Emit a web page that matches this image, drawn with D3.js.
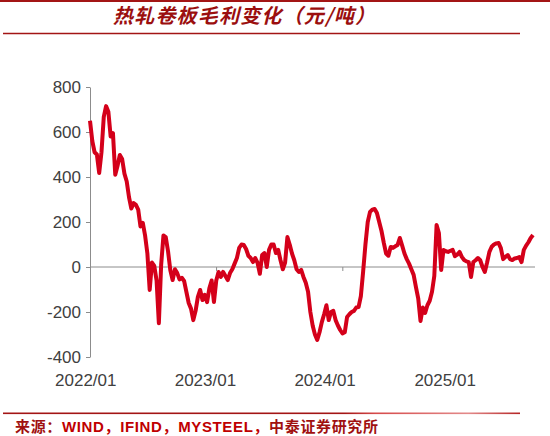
<!DOCTYPE html>
<meta charset="utf-8">
<script src="https://d3js.org/d3.v7.min.js"></script>
<style>
  body { margin: 0; background: #fff; }
</style>
<div id="chart"></div>
<script>

// weekly hot-rolled coil gross margin (yuan/ton)
const startDate = "2022-01-14";
const margin_values = [
  650, 560, 510, 500, 418, 510, 667, 715, 690, 580,
  595, 410, 450, 498, 480, 415, 380, 310, 260, 284,
  276, 255, 180, 196, 140, 60, -102, 20, 5, -60,
  -250, 10, 140, 133, 70, -15, -58, -10, -27, -55,
  -48, -62, -111, -160, -185, -236, -195, -133, -102, -147,
  -124, -156, -95, -60, -156, -60, -22, -44, -22, -40,
  -58, -27, -10, 15, 40, 85, 100, 98, 80, 50,
  40, 22, 40, 18, -30, 53, 62, 0, 76, 100,
  100, 62, 76, 30, -10, 20, 133, 100, 60, 30,
  -10, -22, -13, -44, -70, -110, -200, -260, -300, -324,
  -290, -245, -210, -170, -236, -200, -195, -236, -260, -280,
  -295, -290, -222, -210, -200, -195, -180, -178, -130, -20,
  100, 200, 245, 255, 258, 240, 200, 160, 107, 60,
  50, 89, 85, 92, 98, 129, 95, 60, 35, 15,
  -10, -35, -89, -140, -240, -180, -204, -170, -150, -110,
  -40, 187, 151, -13, 76, 70, 67, 72, 76, 48,
  55, 67, 45, 31, 25, 22, -44, 22, 30, 40,
  30, 0, -22, 20, 67, 90, 100, 105, 107, 84,
  35, 45, 53, 35, 31, 38, 40, 44, 22, 76,
  95, 110, 129, 142
];
const yTicks = [-400, -200, 0, 200, 400, 600, 800];
const yearLabels = ["2022-01-01", "2023-01-01", "2024-01-01", "2025-01-01"];
const tickMarks = ["2023-02-04", "2024-02-24", "2025-03-15"];

const W = 550, H = 436;
const padLeft = 90, padTop = 87, plotW = 445, plotH = 270;

const parse = d3.timeParse("%Y-%m-%d");
const t0 = parse(startDate);
const dates = margin_values.map((v, i) => d3.timeWeek.offset(t0, i));
const data = dates.map((d, i) => ({date: d, value: margin_values[i]}));

const svg = d3.select("#chart").append("svg")
  .attr("width", W).attr("height", H)
  .style("font-family", "'Liberation Sans', Arial, sans-serif");

// frame lines
svg.append("line").attr("x1", 0).attr("x2", W).attr("y1", 1).attr("y2", 1)
  .attr("stroke", "#a31515").attr("stroke-width", 2);
svg.append("line").attr("x1", 3).attr("x2", 520).attr("y1", 33.5).attr("y2", 33.5)
  .attr("stroke", "#a31515").attr("stroke-width", 1.5);

const grad = svg.append("defs").append("linearGradient").attr("id", "fade");
grad.append("stop").attr("offset", "0%").attr("stop-color", "#a31515");
grad.append("stop").attr("offset", "66%").attr("stop-color", "#a31515");
grad.append("stop").attr("offset", "72%").attr("stop-color", "#d64a4a");
grad.append("stop").attr("offset", "90%").attr("stop-color", "#e38a8a");
grad.append("stop").attr("offset", "100%").attr("stop-color", "#b52525");
svg.append("rect").attr("x", 3).attr("y", 412.5).attr("width", 517).attr("height", 1.6)
  .attr("fill", "url(#fade)");

// title
svg.append("text")
  .attr("x", 113).attr("y", 23)
  .attr("textLength", 262).attr("lengthAdjust", "spacing")
  .style("font-family", "'Noto Sans CJK SC', sans-serif")
  .style("font-size", "20px").style("font-weight", "bold").style("font-style", "italic")
  .style("fill", "#9b0f0f")
  .text("热轧卷板毛利变化（元/吨）");

// source
const src = svg.append("text").attr("x", 15).attr("y", 432)
  .attr("textLength", 363).attr("lengthAdjust", "spacing")
  .style("font-size", "15px").style("font-weight", "bold");
src.append("tspan").text("来源：")
  .style("font-family", "'Noto Sans CJK SC', sans-serif").style("fill", "#a01010");
src.append("tspan").text("WIND，IFIND，MYSTEEL，")
  .style("font-family", "'Liberation Sans', 'Noto Sans CJK SC', sans-serif").style("fill", "#c00000");
src.append("tspan").text("中泰证券研究所")
  .style("font-family", "'Noto Sans CJK SC', sans-serif").style("fill", "#a01010");

const g = svg.append("g").attr("transform", `translate(${padLeft},${padTop})`);

const x = d3.scaleTime()
  .domain([dates[0], dates[dates.length - 1]])
  .range([0, 443]);
const y = d3.scaleLinear().domain([-400, 800]).range([plotH, 0]);

// y axis
const yAxis = g.append("g")
  .call(d3.axisLeft(y).tickValues(yTicks).tickSize(4).tickSizeOuter(0).tickFormat(d => String(d)));
yAxis.select(".domain").attr("stroke", "#8c8c8c");
yAxis.selectAll(".tick line").attr("stroke", "#8c8c8c");
yAxis.selectAll(".tick text")
  .attr("x", -9)
  .style("font-size", "17px").style("fill", "#404040")
  .style("font-family", "'Liberation Sans', Arial, sans-serif");

// x axis on the zero line
const zeroY = y(0);
g.append("line").attr("x1", 0).attr("x2", plotW).attr("y1", zeroY).attr("y2", zeroY)
  .attr("stroke", "#8c8c8c").attr("stroke-width", 1);
g.selectAll(".xmark").data(tickMarks.map(parse)).enter().append("line")
  .attr("x1", d => x(d)).attr("x2", d => x(d))
  .attr("y1", zeroY).attr("y2", zeroY + 4)
  .attr("stroke", "#8c8c8c");

g.selectAll(".xlab").data(yearLabels.map(parse)).enter().append("text")
  .attr("x", d => x(d)).attr("y", plotH + 29)
  .attr("text-anchor", "middle")
  .style("font-size", "17px").style("fill", "#404040")
  .text(d3.timeFormat("%Y/%m"));

// line
const line = d3.line().x(d => x(d.date)).y(d => y(d.value));
g.append("path").datum(data)
  .attr("d", line)
  .attr("fill", "none")
  .attr("stroke", "#d4001a")
  .attr("stroke-width", 4)
  .attr("stroke-linejoin", "round");

</script>
